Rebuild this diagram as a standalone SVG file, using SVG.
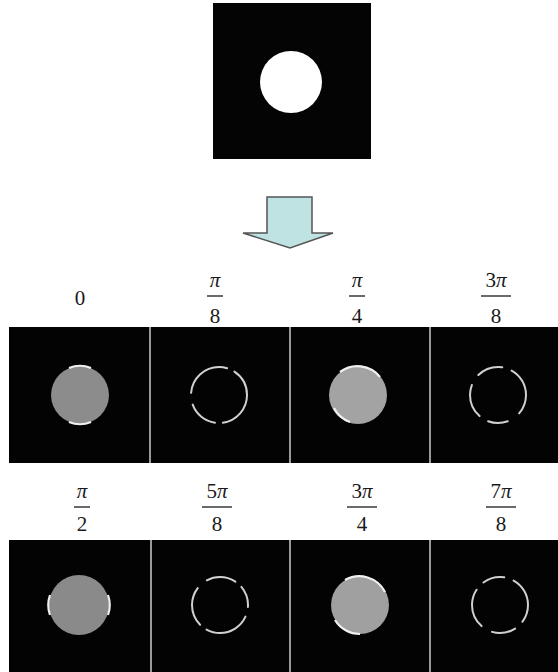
<svg xmlns="http://www.w3.org/2000/svg" width="558" height="672" viewBox="0 0 558 672">
<style>
.lbl{font-family:"Liberation Serif","DejaVu Serif",serif;font-size:21px;fill:#1a1a1a;text-anchor:middle}
.pi{font-style:italic}
.bar{stroke:#1a1a1a;stroke-width:1.3}
.panel{fill:#030303}
.div{stroke:#9a9a9a;stroke-width:2}
.ring{fill:none;stroke:#d0d0d0;stroke-width:2;stroke-linecap:round}
.edge{fill:none;stroke:#f0f0f0;stroke-width:2.2}
</style>
<rect width="558" height="672" fill="#ffffff"/>
<g id="source">
<rect x="213" y="3" width="158" height="156" fill="#040404"/>
<circle cx="291" cy="82" r="31" fill="#ffffff"/>
</g>
<g id="connectors">
<path d="M267,197 H312 V233 H333 L290,248 L243,233 H267 Z" fill="#bfe2e3" stroke="#555" stroke-width="1.5"/>
</g>
<g id="labels-row1">
<text class="lbl" x="80" y="305">0</text>
<text class="lbl pi" x="215" y="287">π</text><line class="bar" x1="207" y1="296" x2="223" y2="296"/><text class="lbl" x="215" y="323">8</text>
<text class="lbl pi" x="357" y="287">π</text><line class="bar" x1="349" y1="296" x2="365" y2="296"/><text class="lbl" x="357" y="323">4</text>
<text class="lbl" x="496" y="287">3<tspan class="pi">π</tspan></text><line class="bar" x1="481" y1="296" x2="511" y2="296"/><text class="lbl" x="496" y="323">8</text>
</g>
<g id="row1">
<rect class="panel" x="9" y="327" width="549" height="136"/>
<line class="div" x1="150" y1="327" x2="150" y2="463"/>
<line class="div" x1="290" y1="327" x2="290" y2="463"/>
<line class="div" x1="430" y1="327" x2="430" y2="463"/>
<g id="p0"><circle cx="80" cy="395" r="29" fill="#8c8c8c"/><path class="edge" d="M69,368 A29,29 0 0 1 91,368 M69,422 A29,29 0 0 0 91,422"/></g>
<g id="p1"><circle class="ring" cx="219" cy="395" r="28" stroke-dasharray="40 8 30 12 50 8 28 10"/></g>
<g id="p2"><circle cx="358" cy="395" r="29" fill="#a3a3a3"/><path class="edge" d="M340,372 A29,29 0 0 1 380,377 M334,408 A29,29 0 0 0 350,422"/></g>
<g id="p3"><circle class="ring" cx="498" cy="395" r="28" stroke-dasharray="30 14 20 10 34 12 26 10" stroke-dashoffset="10"/></g>
</g>
<g id="labels-row2">
<text class="lbl pi" x="82" y="498">π</text><line class="bar" x1="74" y1="507" x2="90" y2="507"/><text class="lbl" x="82" y="531">2</text>
<text class="lbl" x="217" y="498">5<tspan class="pi">π</tspan></text><line class="bar" x1="202" y1="507" x2="232" y2="507"/><text class="lbl" x="217" y="531">8</text>
<text class="lbl" x="362" y="498">3<tspan class="pi">π</tspan></text><line class="bar" x1="347" y1="507" x2="377" y2="507"/><text class="lbl" x="362" y="531">4</text>
<text class="lbl" x="501" y="498">7<tspan class="pi">π</tspan></text><line class="bar" x1="486" y1="507" x2="516" y2="507"/><text class="lbl" x="501" y="531">8</text>
</g>
<g id="row2">
<rect class="panel" x="9" y="540" width="549" height="132"/>
<line class="div" x1="151" y1="540" x2="151" y2="672"/>
<line class="div" x1="290" y1="540" x2="290" y2="672"/>
<line class="div" x1="430" y1="540" x2="430" y2="672"/>
<g id="q0"><circle cx="79" cy="605" r="30" fill="#8a8a8a"/><path class="edge" d="M50,595 A30,30 0 0 0 50,615 M108,595 A30,30 0 0 1 108,615"/></g>
<g id="q1"><circle class="ring" cx="220" cy="605" r="28" stroke-dasharray="22 10 46 8 40 12 30 8" stroke-dashoffset="20"/></g>
<g id="q2"><circle cx="360" cy="605" r="29" fill="#a0a0a0"/><path class="edge" d="M345,580 A29,29 0 0 1 385,592 M335,620 A29,29 0 0 0 360,634"/></g>
<g id="q3"><circle class="ring" cx="500" cy="605" r="28" stroke-dasharray="48 10 24 12 40 10 22 10" stroke-dashoffset="30"/></g>
</g>
</svg>
